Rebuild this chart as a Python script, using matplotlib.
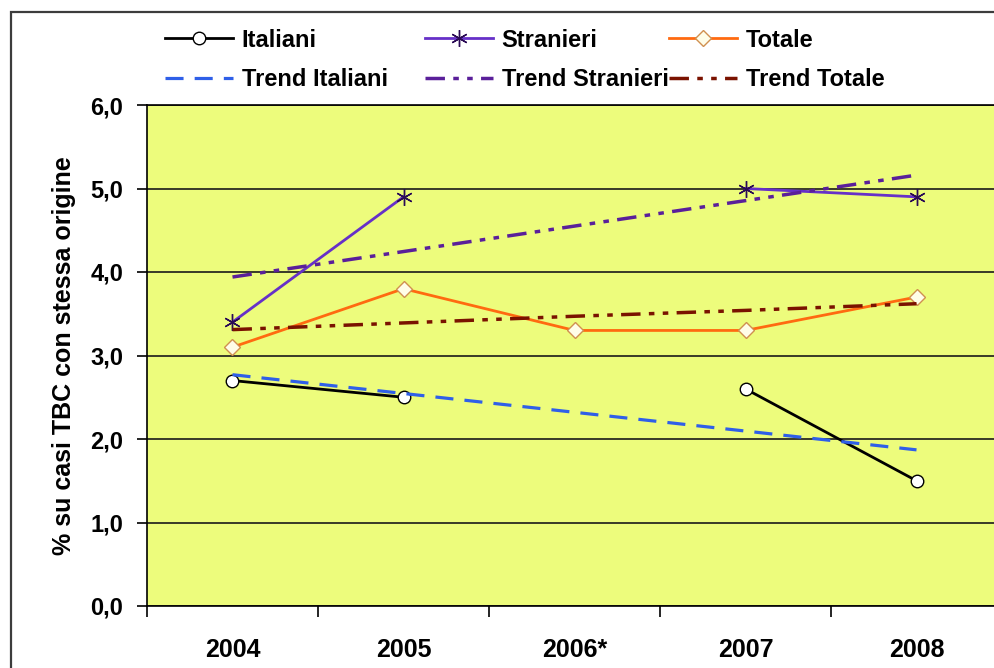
import matplotlib
matplotlib.use("Agg")
import matplotlib.pyplot as plt
import numpy as np
from matplotlib.patches import Rectangle

plt.rcParams["font.family"] = ["Liberation Sans", "DejaVu Sans"]
plt.rcParams["lines.scale_dashes"] = False

years = ["2004", "2005", "2006*", "2007", "2008"]
italiani = [2.7, 2.5, np.nan, 2.6, 1.5]
stranieri = [3.4, 4.9, np.nan, 5.0, 4.9]
totale = [3.1, 3.8, 3.3, 3.3, 3.7]
trend_italiani = [2.77, 2.545, 2.32, 2.095, 1.87]
trend_stranieri = [3.94, 4.245, 4.55, 4.855, 5.16]
trend_totale = [3.31, 3.39, 3.47, 3.54, 3.62]
y_ticks = [0, 1, 2, 3, 4, 5, 6]
y_labels = ["0,0", "1,0", "2,0", "3,0", "4,0", "5,0", "6,0"]

W, H = 995, 668
fig = plt.figure(figsize=(W / 100, H / 100), dpi=100)
fig.patch.set_facecolor("white")

# outer chart border (cut off at right and bottom)
fig.patches.append(Rectangle((11 / W, -0.05), 1.2, 1 - 12 / H + 0.05,
                             transform=fig.transFigure, fill=False,
                             edgecolor="#3c3c3c", linewidth=1.6))

ax = fig.add_axes([147 / W, 62 / H, 855 / W, 501 / H])
ax.set_facecolor("#EDFC7C")

x = np.arange(len(years))

h_ita, = ax.plot(x, italiani, color="black", lw=2.0, marker="o", ms=9,
                 mfc="white", mec="black", mew=1.0, label="Italiani")
h_str, = ax.plot(x, stranieri, color="#6630c8", lw=2.0, marker=(6, 2, 0), ms=12,
                 mec="#2a0a55", mew=1.0, label="Stranieri")
h_tot, = ax.plot(x, totale, color="#FF6a10", lw=2.0, marker="D", ms=8,
                 mfc="#FFFDE8", mec="#d09050", mew=1.0, label="Totale")

h_tita, = ax.plot(x, trend_italiani, color="#2f5fe8", lw=2.3,
                  dashes=(13, 8), label="Trend Italiani")
h_tstr, = ax.plot(x, trend_stranieri, color="#5a1f9a", lw=2.5,
                  dashes=(14, 6, 4, 6, 4, 6), label="Trend Stranieri")
h_ttot, = ax.plot(x, trend_totale, color="#7a1200", lw=2.5,
                  dashes=(14, 6, 4, 6, 4, 6), label="Trend Totale")

ax.set_xlim(-0.5, 4.5)
ax.set_ylim(0, 6)

ax.set_yticks(y_ticks)
ax.set_yticklabels(y_labels, fontsize=17, fontweight="bold")
ax.tick_params(axis="y", direction="out", length=7, width=1.2, pad=10)
ax.yaxis.grid(True, color="#1a1a1a", lw=1.2)
ax.set_axisbelow(True)

# category boundaries as major ticks, labels on minor ticks
ax.set_xticks(np.arange(-0.5, 5.0, 1.0))
ax.set_xticklabels([])
ax.tick_params(axis="x", which="major", direction="out", length=8, width=1.2)
ax.set_xticks(x, minor=True)
ax.set_xticklabels(years, minor=True, fontsize=18, fontweight="bold")
ax.tick_params(axis="x", which="minor", length=0, pad=23)

for side in ["left", "bottom", "top"]:
    ax.spines[side].set_color("black")
    ax.spines[side].set_linewidth(1.2)
ax.spines["right"].set_visible(False)

ax.set_ylabel("% su casi TBC con stessa origine", fontsize=18,
              fontweight="bold", labelpad=10)

# legend: three columns placed like the original
cols = [(165, [h_ita, h_tita]), (425, [h_str, h_tstr]), (669, [h_tot, h_ttot])]
for xpos, handles in cols:
    leg = fig.legend(handles=handles, loc="center left",
                     bbox_to_anchor=(xpos / W, 1 - 60 / H),
                     frameon=False, borderpad=0, borderaxespad=0,
                     handlelength=2.9, handletextpad=0.35, labelspacing=0.7,
                     numpoints=1, prop={"size": 17, "weight": "bold"})

fig.savefig("out.png", dpi=100)
